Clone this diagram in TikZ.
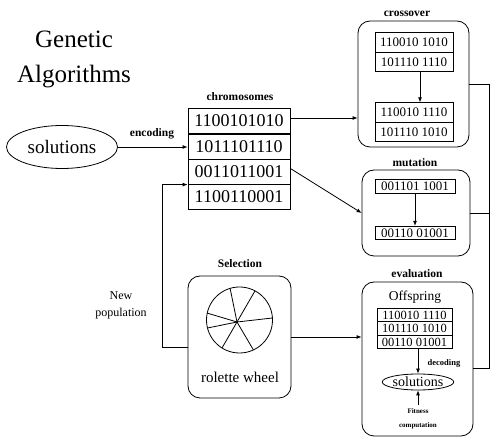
\documentclass[tikz,border=0pt]{standalone}
\usepackage{fontspec}
\setmainfont{Liberation Serif}
\usetikzlibrary{arrows.meta,shapes.geometric}
\begin{document}
\begin{tikzpicture}[x=1pt,y=-1pt,
  line width=0.8pt,
  arr/.style={-{Latex[length=5pt,width=4pt]}},
  lbl/.style={font=\fontsize{11.5}{12}\selectfont\bfseries, inner sep=0pt},
  rbox/.style={draw, rounded corners=12pt, inner sep=0pt},
  chrom/.style={draw, minimum width=102pt, minimum height=25pt, inner sep=0pt, font=\fontsize{18}{18}\selectfont},
  xrow/.style={draw, minimum width=78pt, minimum height=19.5pt, inner sep=0pt, font=\fontsize{13}{13}\selectfont},
  mrow/.style={draw, minimum width=80pt, minimum height=13.5pt, inner sep=0pt, font=\fontsize{13}{13}\selectfont},
  orow/.style={draw, minimum width=75pt, minimum height=13.7pt, inner sep=0pt, font=\fontsize{12.5}{12.5}\selectfont},
]
\useasboundingbox (0,0) rectangle (491,438);

% title
\node[inner sep=0pt] (t1) at (74,39) {\fontsize{25}{25}\selectfont Genetic};
\node[inner sep=0pt] (t2) at (74,77) {\fontsize{25}{25}\selectfont Algorithms};

% solutions ellipse
\node[draw, ellipse, minimum width=111pt, minimum height=43pt, inner sep=0pt,
      font=\fontsize{19}{19}\selectfont] (sol) at (62,147) {solutions};
\node[lbl] (enc) at (152,134) {encoding};

% chromosomes
\node[lbl] (chl) at (240,97) {chromosomes};
\node[chrom] (c1) at (239,121) {1100101010};
\node[chrom] (c2) at (239,146.5) {1011101110};
\node[chrom] (c3) at (239,171.5) {0011011001};
\node[chrom] (c4) at (239,196.5) {1100110001};

% crossover
\node[lbl] (xl) at (407,14) {crossover};
\node[rbox, minimum width=111pt, minimum height=126pt] (cross) at (413.5,84) {};
\node[xrow] (x1) at (414,42.5) {110010 1010};
\node[xrow] (x2) at (414,62) {101110 1110};
\node[xrow] (x3) at (414,112.5) {110010 1110};
\node[xrow] (x4) at (414,132) {101110 1010};
\draw[arr] ([xshift=6pt]x2.south) -- ([xshift=6pt]x3.north);

% mutation
\node[lbl] (ml) at (415,163) {mutation};
\node[rbox, minimum width=108pt, minimum height=86pt] (mut) at (416,213) {};
\node[mrow] (m1) at (415,186.5) {001101 1001};
\node[mrow] (m2) at (415,233) {00110 01001};
\draw[arr] (m1.south) -- (m2.north);

% selection
\node[lbl] (sl) at (240,264) {Selection};
\node[rbox, minimum width=103pt, minimum height=122pt] (sel) at (239.5,337) {};
\draw (239.5,320) circle[radius=33pt];
\coordinate (hub) at (237,322);
\draw (hub) -- (230.1,288.4);
\draw (hub) -- (255,290.9);
\draw (hub) -- (272.4,318);
\draw (hub) -- (253.4,349.9);
\draw (hub) -- (222,348);
\draw (hub) -- (207.5,328);
\draw (hub) -- (207.2,313.1);
\node[inner sep=0pt, font=\fontsize{15}{15}\selectfont] (rw) at (240,377) {rolette wheel};

% evaluation
\node[lbl] (el) at (417,274) {evaluation};
\node[rbox, minimum width=111pt, minimum height=154pt] (eval) at (417.5,359) {};
\node[inner sep=0pt, font=\fontsize{13.5}{13.5}\selectfont] (off) at (415,297) {Offspring};
\node[orow] (o1) at (414.5,315) {110010 1110};
\node[orow] (o2) at (414.5,328.5) {101110 1010};
\node[orow] (o3) at (414.5,342) {00110 01001};
\node[draw, ellipse, minimum width=70pt, minimum height=16pt, inner sep=0pt,
      font=\fontsize{14}{14}\selectfont] (esol) at (418,382) {solutions};
\draw[arr] (o3.south -| esol.north) -- (esol.north);
\node[lbl, font=\fontsize{8.5}{9}\selectfont\bfseries] (dec) at (444,363) {decoding};
\node[inner sep=0pt, align=center, font=\fontsize{7}{14}\selectfont\bfseries] (fit) at (418,419) {Fitness\\computation};
\draw[arr] ([yshift=3pt]fit.north) -- (esol.south);

% new population
\node[inner sep=0pt, align=center, font=\fontsize{12}{17}\selectfont] (np) at (121,305) {New\\population};

% connectors
\draw[arr] (sol.east) -- (sol.east -| c2.west);
\draw[arr] ([yshift=3pt]c1.east) -- ([yshift=3pt]c1.east -| cross.west);
\draw[arr] ([yshift=3pt]c3.east) -- (mut.west);
\coordinate (fb) at (162,347);
\draw[arr] (sel.west |- fb) -- (fb) |- ([yshift=-1pt]c4.north west);
\draw[arr] (sel.east) -- (sel.east -| eval.west);
\coordinate (rt) at (489,84);
\coordinate (rb) at (489,368);
\draw (cross.east |- rt) -- (rt) -- (rb) -- (rb -| eval.east);
\draw (mut.east) -- (mut.east -| rt);
\end{tikzpicture}
\end{document}
